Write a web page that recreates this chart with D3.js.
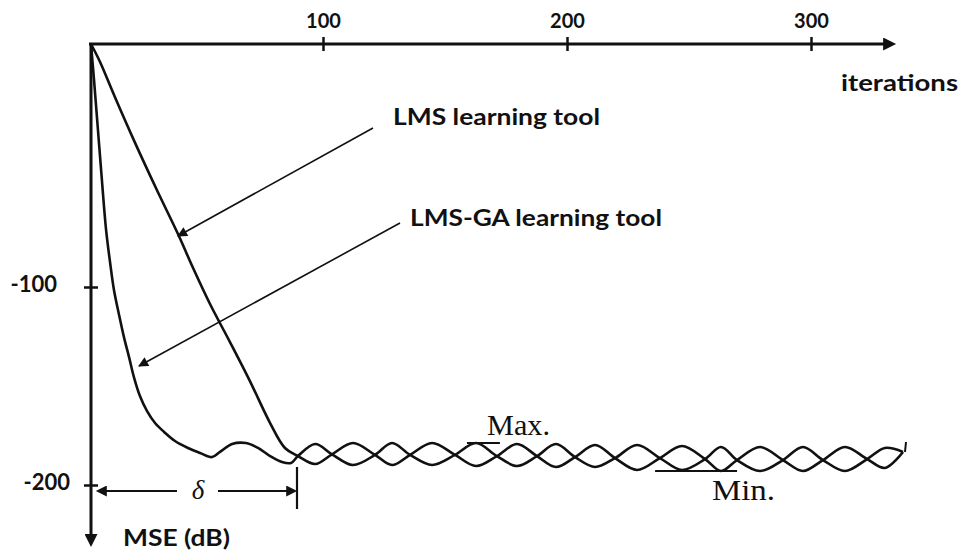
<!DOCTYPE html>
<html>
<head>
<meta charset="utf-8">
<script src="https://cdn.jsdelivr.net/npm/d3@7"></script>
<style>
body { margin: 0; background: #fff; }
svg { display: block; }
</style>
</head>
<body>
<svg id="chart" width="964" height="557"></svg>
<script>
// tick values
var xTicks = [100, 200, 300];
var yTicks = [-100, -200];

// LMS learning tool (slow descent)
var lmsIter = [0, 3.9, 10.3, 19.0, 28.4, 37.5, 44.0, 51.3, 59.9, 68.5, 77.2, 83.6, 89.2, 96.6,
    103.7, 112.3, 121.3, 128.3, 135.7, 144.7, 154.1, 162.7, 171.3, 179.5, 187.7, 195.5,
    203.3, 211.5, 219.7, 228.7, 238.1, 247.1, 256.6, 263.1, 269.7, 279.1, 288.5, 296.7,
    304.9, 313.9, 323.0, 330.3, 337.7];
var lmsMse = [0, -7.4, -21.8, -40.7, -60.1, -78.2, -92.2, -108.6, -127.8, -147.5, -168.7, -181.3, -185.4, -189.4,
    -184.5, -178.8, -184.8, -189.9, -184.8, -178.8, -184.8, -190.4, -185.4, -179.3, -185.4, -190.9,
    -185.9, -179.8, -186.4, -192.4, -186.4, -180.3, -186.9, -192.9, -187.4, -180.8, -187.4, -192.9,
    -187.4, -180.8, -186.9, -191.4, -183.3];

// LMS-GA learning tool (fast descent)
var gaIter = [0, 1.3, 3.0, 4.7, 6.5, 8.2, 9.9, 12.1, 14.2, 16.4, 18.5, 21.1, 24.1, 27.6, 31.5, 36.2,
    41.8, 47.0, 52.2, 55.6, 60.8, 66.8, 72.0, 77.2, 82.3, 86.2, 89.2, 96.6,
    103.7, 112.3, 121.3, 128.3, 135.7, 144.7, 154.1, 162.7, 171.3, 179.5, 187.7, 195.5,
    203.3, 211.5, 219.7, 228.7, 238.1, 247.1, 256.6, 263.1, 269.7, 279.1, 288.5, 296.7,
    304.9, 313.9, 323.0, 330.3, 337.7];
var gaMse = [0, -14.8, -35.4, -56.0, -76.5, -89.7, -101.5, -114.1, -125.3, -135.4, -145.5, -155.1, -162.6, -168.7, -173.2, -177.8,
    -181.3, -183.8, -185.9, -183.3, -179.3, -178.8, -181.3, -185.4, -188.4, -188.9, -185.4, -179.3,
    -184.5, -189.9, -184.8, -178.8, -184.8, -189.9, -184.8, -178.8, -185.4, -190.4, -185.4, -179.3,
    -185.9, -190.9, -186.4, -179.8, -186.4, -192.4, -186.9, -180.8, -187.4, -192.9, -187.4, -180.8,
    -187.4, -192.9, -186.9, -181.3, -183.3];

var ink = "#111";
var sans = "Lato, 'Liberation Sans', sans-serif";
var serif = "'Liberation Serif', 'DejaVu Serif', serif";

var svg = d3.select("#chart");

// hand drawn figure: the axes are not evenly spaced, so polylinear scales
var x = d3.scaleLinear().domain([0, 100, 200, 300]).range([91, 323, 567, 811]);
var y = d3.scaleLinear().domain([0, -100, -200]).range([44, 287, 485]);

var defs = svg.append("defs");
function addMarker(id, w, h, refX) {
    defs.append("marker")
        .attr("id", id)
        .attr("viewBox", "0 0 10 10")
        .attr("refX", refX)
        .attr("refY", 5)
        .attr("markerWidth", w)
        .attr("markerHeight", h)
        .attr("markerUnits", "userSpaceOnUse")
        .attr("orient", "auto-start-reverse")
        .append("path")
        .attr("d", "M0,0L10,5L0,10z")
        .attr("fill", ink);
}
addMarker("axisHead", 16, 13, 3);
addMarker("noteHead", 15, 10, 9);
addMarker("deltaHead", 15, 11, 8);

// axis lines with arrows
svg.append("line")
    .attr("x1", 89).attr("y1", y(0))
    .attr("x2", 887).attr("y2", y(0))
    .attr("stroke", ink).attr("stroke-width", 3)
    .attr("marker-end", "url(#axisHead)");

svg.append("line")
    .attr("x1", x(0)).attr("y1", 43)
    .attr("x2", x(0)).attr("y2", 538)
    .attr("stroke", ink).attr("stroke-width", 3)
    .attr("marker-end", "url(#axisHead)");

// top axis ticks
var gx = svg.append("g")
    .attr("transform", "translate(0," + y(0) + ")")
    .call(d3.axisTop(x).tickValues(xTicks).tickSize(7).tickPadding(9).tickFormat(function(d) { return String(d); }));
gx.select(".domain").remove();
gx.selectAll(".tick line").attr("y1", 7).attr("stroke", ink).attr("stroke-width", 2.5);
gx.selectAll(".tick text")
    .attr("font-family", sans)
    .attr("font-weight", "bold")
    .attr("font-size", 20)
    .attr("fill", ink);

// left axis ticks
var gy = svg.append("g")
    .attr("transform", "translate(" + x(0) + ",0)")
    .call(d3.axisLeft(y).tickValues(yTicks).tickSize(7).tickFormat(function(d) { return String(d); }));
gy.select(".domain").remove();
gy.selectAll(".tick line").attr("x1", 7).attr("stroke", ink).attr("stroke-width", 2.5);
gy.selectAll(".tick text")
    .attr("x", function(d) { return d === -100 ? -34 : -21; })
    .attr("dy", "0.2em")
    .attr("font-family", sans)
    .attr("font-weight", "bold")
    .attr("font-size", 22)
    .attr("fill", ink);

// curves
var lmsData = lmsIter.map(function(d, i) { return { iter: d, mse: lmsMse[i] }; });
var gaData = gaIter.map(function(d, i) { return { iter: d, mse: gaMse[i] }; });

var line = d3.line()
    .x(function(d) { return x(d.iter); })
    .y(function(d) { return y(d.mse); })
    .curve(d3.curveCatmullRom.alpha(0.5));

[lmsData, gaData].forEach(function(series) {
    svg.append("path")
        .datum(series)
        .attr("fill", "none")
        .attr("stroke", ink)
        .attr("stroke-width", 2.6)
        .attr("stroke-linejoin", "round")
        .attr("d", line);
});

// small end mark on the right
svg.append("line")
    .attr("x1", 906).attr("y1", 442)
    .attr("x2", 905).attr("y2", 452)
    .attr("stroke", ink).attr("stroke-width", 2);

// annotation arrows
svg.append("line")
    .attr("x1", 373).attr("y1", 128)
    .attr("x2", x(37.5)).attr("y2", y(-79))
    .attr("stroke", ink).attr("stroke-width", 1.6)
    .attr("marker-end", "url(#noteHead)");

svg.append("line")
    .attr("x1", 400).attr("y1", 223)
    .attr("x2", 139).attr("y2", 366)
    .attr("stroke", ink).attr("stroke-width", 1.6)
    .attr("marker-end", "url(#noteHead)");

svg.append("text")
    .attr("x", 393).attr("y", 125)
    .attr("font-family", sans).attr("font-weight", "bold").attr("font-size", 23)
    .attr("textLength", 207).attr("lengthAdjust", "spacingAndGlyphs")
    .attr("fill", ink)
    .text("LMS learning tool");

svg.append("text")
    .attr("x", 410).attr("y", 226)
    .attr("font-family", sans).attr("font-weight", "bold").attr("font-size", 23)
    .attr("textLength", 252).attr("lengthAdjust", "spacingAndGlyphs")
    .attr("fill", ink)
    .text("LMS-GA learning tool");

// axis titles
svg.append("text")
    .attr("x", 841).attr("y", 91)
    .attr("font-family", sans).attr("font-weight", "bold").attr("font-size", 23)
    .attr("textLength", 117).attr("lengthAdjust", "spacingAndGlyphs")
    .attr("fill", ink)
    .text("iterations");

svg.append("text")
    .attr("x", 123).attr("y", 546)
    .attr("font-family", sans).attr("font-weight", "bold").attr("font-size", 22)
    .attr("textLength", 107).attr("lengthAdjust", "spacingAndGlyphs")
    .attr("fill", ink)
    .text("MSE (dB)");

// delta span
var dy = 491;
svg.append("line")
    .attr("x1", 177).attr("y1", dy).attr("x2", 98).attr("y2", dy)
    .attr("stroke", ink).attr("stroke-width", 2.2)
    .attr("marker-end", "url(#deltaHead)");
svg.append("line")
    .attr("x1", 218).attr("y1", dy).attr("x2", 295).attr("y2", dy)
    .attr("stroke", ink).attr("stroke-width", 2.2)
    .attr("marker-end", "url(#deltaHead)");
svg.append("line")
    .attr("x1", 297).attr("y1", 467).attr("x2", 297).attr("y2", 509)
    .attr("stroke", ink).attr("stroke-width", 2.2);
svg.append("text")
    .attr("x", 198).attr("y", 499)
    .attr("text-anchor", "middle")
    .attr("font-family", serif).attr("font-style", "italic").attr("font-size", 27)
    .attr("fill", ink)
    .text("δ");

// Max. / Min. markers
svg.append("line")
    .attr("x1", x(159)).attr("y1", y(-178.8)).attr("x2", x(172.5)).attr("y2", y(-178.8))
    .attr("stroke", ink).attr("stroke-width", 2);
svg.append("text")
    .attr("x", 487).attr("y", 435)
    .attr("font-family", serif).attr("font-size", 29)
    .attr("textLength", 63).attr("lengthAdjust", "spacingAndGlyphs")
    .attr("fill", ink)
    .text("Max.");

svg.append("line")
    .attr("x1", x(236.1)).attr("y1", y(-192.9)).attr("x2", x(269.7)).attr("y2", y(-192.9))
    .attr("stroke", ink).attr("stroke-width", 2);
svg.append("text")
    .attr("x", 712).attr("y", 500)
    .attr("font-family", serif).attr("font-size", 29)
    .attr("textLength", 63).attr("lengthAdjust", "spacingAndGlyphs")
    .attr("fill", ink)
    .text("Min.");
</script>
</body>
</html>
